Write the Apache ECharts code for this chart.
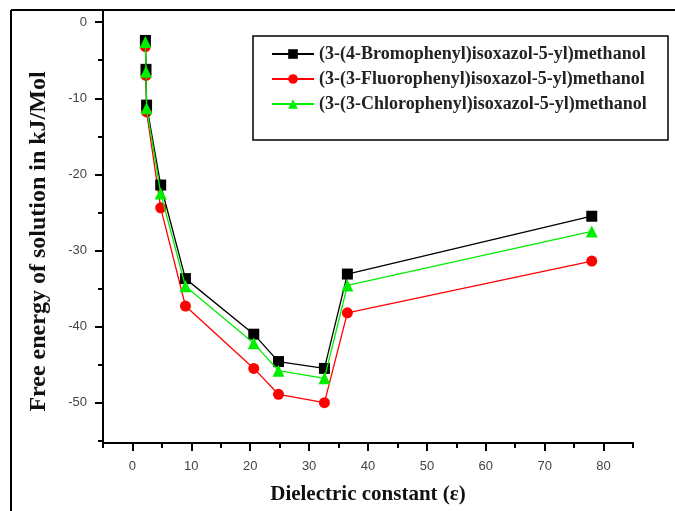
<!DOCTYPE html>
<html>
<head>
<meta charset="utf-8">
<script src="https://cdn.jsdelivr.net/npm/echarts@6/dist/echarts.min.js"></script>
<style>html,body{margin:0;padding:0;background:#fff;}#c{width:675px;height:511px;}</style>
</head>
<body>
<div id="c"></div>
<script>
// Data
var dielectric = [2.2, 2.3, 2.4, 4.8, 9.0, 20.6, 24.8, 32.6, 36.5, 78.0];
var bromo  = [-2.4, -6.2, -10.9, -21.4, -33.7, -41.0, -44.6, -45.5, -33.1, -25.5];
var fluoro = [-3.2, -7.0, -11.8, -24.4, -37.3, -45.5, -48.9, -50.0, -38.2, -31.4];
var chloro = [-2.6, -6.5, -11.3, -22.5, -34.7, -42.2, -45.8, -46.8, -34.6, -27.5];
var seriesNames = [
  '(3-(4-Bromophenyl)isoxazol-5-yl)methanol',
  '(3-(3-Fluorophenyl)isoxazol-5-yl)methanol',
  '(3-(3-Chlorophenyl)isoxazol-5-yl)methanol'
];
var xTicks = [0, 10, 20, 30, 40, 50, 60, 70, 80];
var xMinorTicks = [-5, 5, 15, 25, 35, 45, 55, 65, 75, 85];
var yTicks = [0, -10, -20, -30, -40, -50];
var yMinorTicks = [-5, -15, -25, -35, -45, -55];

function pairs(ys) { return dielectric.map(function (x, i) { return [x, ys[i]]; }); }

var X_MIN = -5, X_MAX = 85, Y_MIN = -55.3, Y_MAX = 1.6;
var labelFont = { fontFamily: 'Liberation Sans, Arial, sans-serif', fontSize: 13, color: '#444' };
var serif = 'Liberation Serif, Times New Roman, serif';

var chart = echarts.init(document.getElementById('c'), null, { renderer: 'canvas' });
var axisLineStyle = { color: '#000', width: 2 };

chart.setOption({
  animation: false,
  backgroundColor: '#fff',
  grid: { left: 103, top: 10, right: 42, bottom: 68, containLabel: false },
  legend: {
    orient: 'vertical',
    left: 266,
    top: 40,
    itemWidth: 42,
    itemHeight: 12,
    itemGap: 7,
    data: seriesNames,
    textStyle: { fontFamily: serif, fontWeight: 'bold', fontSize: 18, color: '#222' }
  },
  xAxis: [{
    type: 'value', min: X_MIN, max: X_MAX, position: 'bottom',
    axisLine: { onZero: false, lineStyle: axisLineStyle },
    axisTick: { show: true, inside: false, length: 8, customValues: xTicks, lineStyle: { color: '#000', width: 2 } },
    axisLabel: Object.assign({ customValues: xTicks, margin: 17 }, labelFont),
    splitLine: { show: false },
    name: 'Dielectric constant (\u03b5)', nameLocation: 'middle', nameGap: 41,
    nameTextStyle: { fontFamily: serif, fontWeight: 'bold', fontSize: 21, color: '#111' }
  }, {
    type: 'value', min: X_MIN, max: X_MAX, position: 'bottom',
    axisLine: { show: false, onZero: false },
    axisTick: { show: true, inside: false, length: 5, customValues: xMinorTicks, lineStyle: { color: '#000', width: 2 } },
    axisLabel: { show: false }, splitLine: { show: false }
  }],
  yAxis: [{
    type: 'value', min: Y_MIN, max: Y_MAX, position: 'left',
    axisLine: { onZero: false, lineStyle: axisLineStyle },
    axisTick: { show: true, inside: false, length: 8, customValues: yTicks, lineStyle: { color: '#000', width: 2 } },
    axisLabel: Object.assign({ customValues: yTicks, margin: 16 }, labelFont),
    splitLine: { show: false },
    name: 'Free energy of solution in kJ/Mol', nameLocation: 'middle', nameGap: 52, nameRotate: 90,
    nameTextStyle: { fontFamily: serif, fontWeight: 'bold', fontSize: 24, color: '#111', padding: [0, 30, 0, 0] }
  }, {
    type: 'value', min: Y_MIN, max: Y_MAX, position: 'left',
    axisLine: { show: false, onZero: false },
    axisTick: { show: true, inside: false, length: 5, customValues: yMinorTicks, lineStyle: { color: '#000', width: 2 } },
    axisLabel: { show: false }, splitLine: { show: false }
  }],
  series: [{
    name: seriesNames[0], type: 'line', data: pairs(bromo),
    symbol: 'rect', symbolSize: 11,
    lineStyle: { color: '#000', width: 1.3 }, itemStyle: { color: '#000' }, z: 3
  }, {
    name: seriesNames[1], type: 'line', data: pairs(fluoro),
    symbol: 'circle', symbolSize: 11,
    lineStyle: { color: '#ff0000', width: 1.3 }, itemStyle: { color: '#ff0000' }, z: 2
  }, {
    name: seriesNames[2], type: 'line', data: pairs(chloro),
    symbol: 'triangle', symbolSize: 12,
    lineStyle: { color: '#00ee00', width: 1.3 }, itemStyle: { color: '#00ee00' }, z: 4
  }],
  graphic: [
    { type: 'line', shape: { x1: 11, y1: 10, x2: 675, y2: 10 }, style: { stroke: '#000', lineWidth: 2 }, silent: true },
    { type: 'line', shape: { x1: 11, y1: 10, x2: 11, y2: 511 }, style: { stroke: '#000', lineWidth: 2 }, silent: true },
    { type: 'rect', shape: { x: 253, y: 36, width: 415, height: 104 }, style: { fill: 'none', stroke: '#000', lineWidth: 1.5 }, silent: true, z: 10 }
  ]
});
</script>
</body>
</html>
